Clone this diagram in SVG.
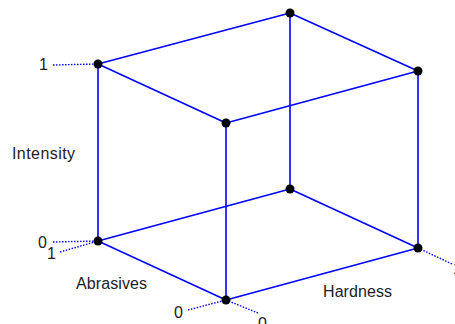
<svg xmlns="http://www.w3.org/2000/svg" width="455" height="324" viewBox="0 0 455 324">
<style>
.e{stroke:#0000ff;stroke-width:1.6;fill:none}
.d{stroke:#0000ff;stroke-width:1.4;stroke-dasharray:1.5 1.5;fill:none}
.v{fill:#000}
text{font-family:"Liberation Sans",Arial,sans-serif;font-size:16px;fill:#222}
</style>
<rect width="455" height="324" fill="#fff"/>
<g id="connectors">
<line class="e" x1="98" y1="64" x2="290" y2="13"/>
<line class="e" x1="290" y1="13" x2="418" y2="71"/>
<line class="e" x1="418" y1="71" x2="226" y2="123"/>
<line class="e" x1="226" y1="123" x2="98" y2="64"/>
<line class="e" x1="98" y1="241" x2="290" y2="189"/>
<line class="e" x1="290" y1="189" x2="418" y2="248"/>
<line class="e" x1="418" y1="248" x2="226" y2="300"/>
<line class="e" x1="226" y1="300" x2="98" y2="241"/>
<line class="e" x1="98" y1="64" x2="98" y2="241"/>
<line class="e" x1="290" y1="13" x2="290" y2="189"/>
<line class="e" x1="418" y1="71" x2="418" y2="248"/>
<line class="e" x1="226" y1="123" x2="226" y2="300"/>
<line class="d" x1="53" y1="65" x2="98" y2="64"/>
<line class="d" x1="53" y1="242" x2="98" y2="241"/>
<line class="d" x1="60" y1="252" x2="98" y2="241"/>
<line class="d" x1="188" y1="310" x2="226" y2="300"/>
<line class="d" x1="226" y1="300" x2="258" y2="313"/>
<line class="d" x1="418" y1="248" x2="452" y2="264"/>
</g>
<g id="nodes">
<circle id="n1" class="v" cx="98" cy="64" r="4.5"/>
<circle id="n2" class="v" cx="290" cy="13" r="4.5"/>
<circle id="n3" class="v" cx="418" cy="71" r="4.5"/>
<circle id="n4" class="v" cx="226" cy="123" r="4.5"/>
<circle id="n5" class="v" cx="98" cy="241" r="4.5"/>
<circle id="n6" class="v" cx="290" cy="189" r="4.5"/>
<circle id="n7" class="v" cx="418" cy="248" r="4.5"/>
<circle id="n8" class="v" cx="226" cy="300" r="4.5"/>
</g>
<g id="labels">
<text x="39" y="70">1</text>
<text x="38" y="248">0</text>
<text x="47" y="259">1</text>
<text x="174" y="318">0</text>
<text x="258" y="329">0</text>
<text x="453" y="274">1</text>
<text x="12" y="159" textLength="63">Intensity</text>
<text x="76" y="289" textLength="71">Abrasives</text>
<text x="323" y="297" textLength="69">Hardness</text>
</g>
</svg>
